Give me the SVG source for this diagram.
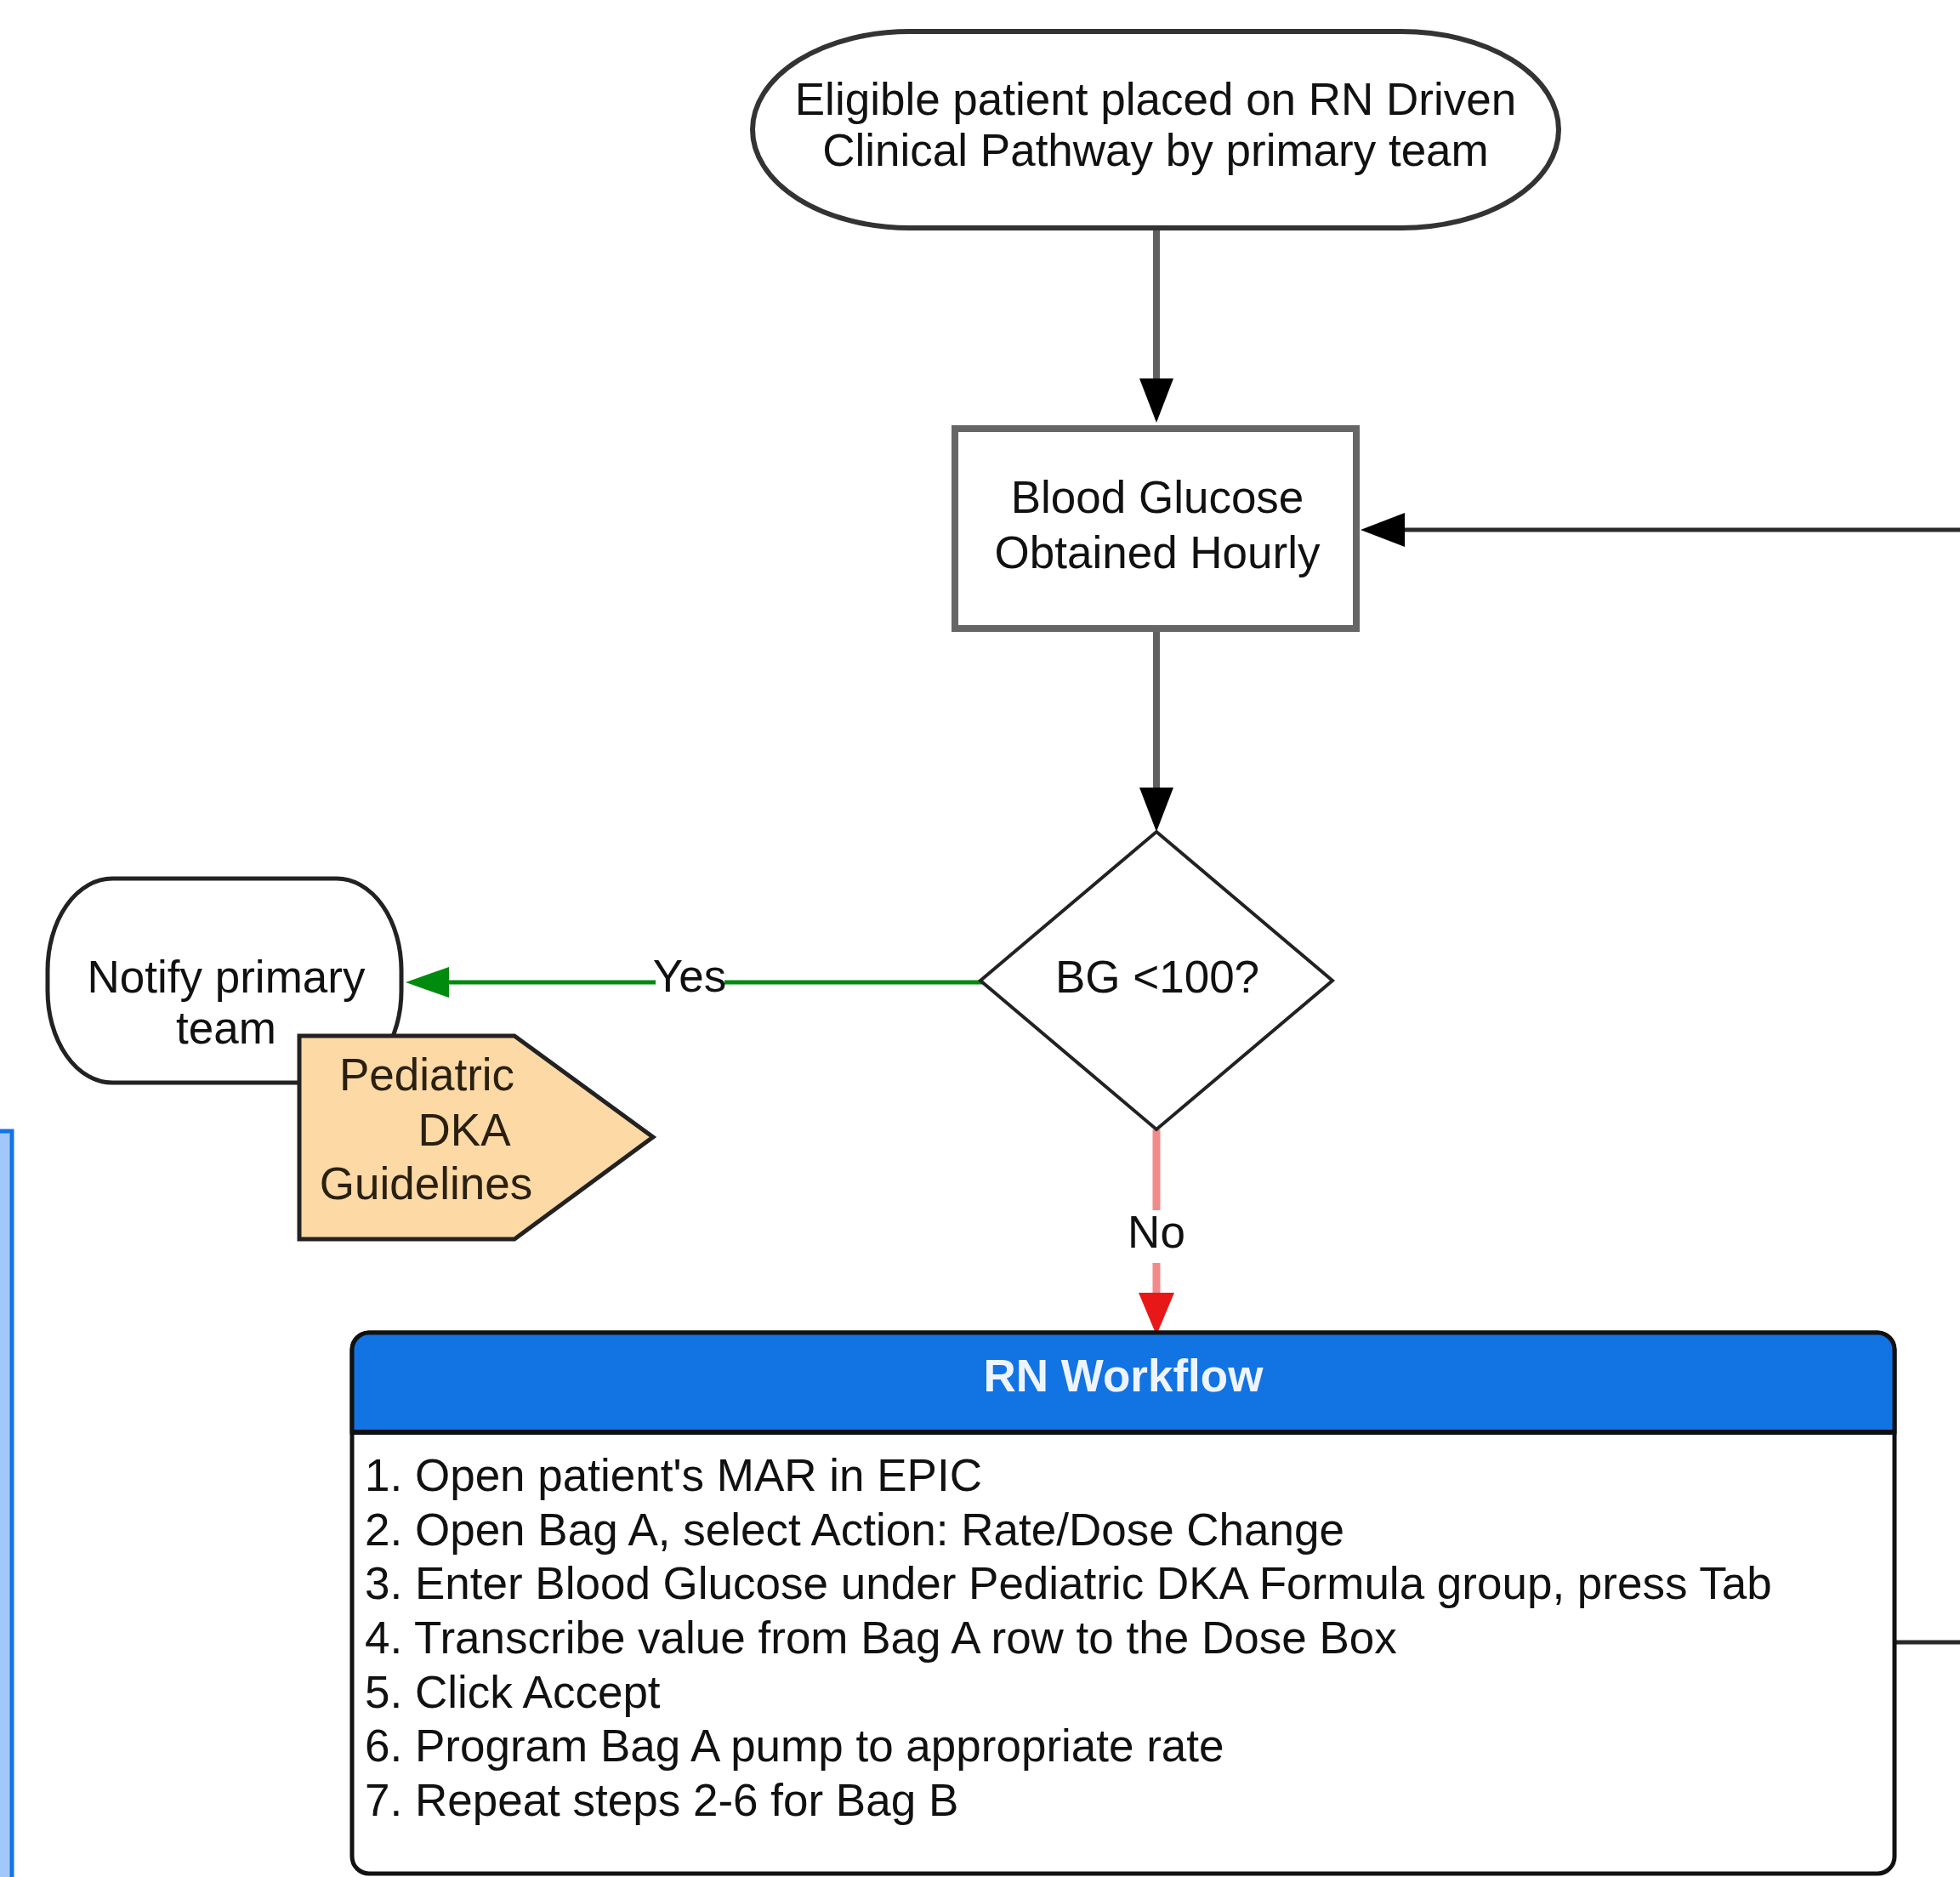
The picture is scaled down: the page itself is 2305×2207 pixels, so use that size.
<svg xmlns="http://www.w3.org/2000/svg" width="2305" height="2207" viewBox="0 0 2305 2207">
<style>
  text { font-family: "Liberation Sans", Arial, sans-serif; font-size: 53px; fill: #111; }
  .c { text-anchor: middle; }
  .conn { fill: none; stroke-linecap: butt; }
  .lbl { font-size: 53px; fill: #111; }
</style>
<defs>
  <marker id="ahBlack" markerUnits="userSpaceOnUse" markerWidth="54" markerHeight="40" refX="0" refY="20" orient="auto">
    <path d="M0,0 L52,20 L0,40 Z" fill="#000"/>
  </marker>
  <marker id="ahGreen" markerUnits="userSpaceOnUse" markerWidth="54" markerHeight="36" refX="0" refY="18" orient="auto">
    <path d="M0,0 L51,18 L0,36 Z" fill="#008a0e"/>
  </marker>
  <marker id="ahRed" markerUnits="userSpaceOnUse" markerWidth="52" markerHeight="42" refX="0" refY="21" orient="auto">
    <path d="M0,0 L50,21 L0,42 Z" fill="#e81818"/>
  </marker>
</defs>
<rect x="0" y="0" width="2305" height="2207" fill="#ffffff"/>

<!-- side panel (partially visible) -->
<g id="side-panel">
  <rect x="-60" y="1330" width="74" height="950" fill="#a2c8f9" stroke="#1473e6" stroke-width="5"/>
</g>

<!-- connectors -->
<g id="connectors">
  <path class="conn" d="M1360,268 V445" stroke="#606060" stroke-width="8" marker-end="url(#ahBlack)"/>
  <path class="conn" d="M1360,743 V926" stroke="#606060" stroke-width="8" marker-end="url(#ahBlack)"/>
  <path class="conn" d="M1155,1155 H528" stroke="#008a0e" stroke-width="5" marker-end="url(#ahGreen)"/>
  <path class="conn" d="M1360,1328 V1520" stroke="#f28a8a" stroke-width="9" marker-end="url(#ahRed)"/>
  <path class="conn" d="M2228,1931 H2340 V623 H1652" stroke="#2a2a2a" stroke-width="5" marker-end="url(#ahBlack)"/>
  <g id="label-yes">
    <rect x="771" y="1120" width="81" height="60" fill="#fff"/>
    <text class="c lbl" x="811" y="1166">Yes</text>
  </g>
  <g id="label-no">
    <rect x="1325" y="1423" width="70" height="62" fill="#fff"/>
    <text class="c lbl" x="1360" y="1467">No</text>
  </g>
</g>

<!-- start terminator -->
<g id="node-start">
  <path d="M1070,37 H1648 A185,115.5 0 0 1 1648,268 H1070 A185,115.5 0 0 1 1070,37 Z" fill="#fff" stroke="#333" stroke-width="6"/>
  <text class="c" x="1359" y="135">Eligible patient placed on RN Driven</text>
  <text class="c" x="1359" y="195">Clinical Pathway by primary team</text>
</g>

<!-- blood glucose box -->
<g id="node-bg-hourly">
  <rect x="1123" y="504" width="472" height="235" fill="#fff" stroke="#666" stroke-width="8"/>
  <text class="c" x="1361" y="603">Blood Glucose</text>
  <text class="c" x="1361" y="668">Obtained Hourly</text>
</g>

<!-- decision -->
<g id="node-decision">
  <polygon points="1360,978 1567,1153 1360,1328 1153,1153" fill="#fff" stroke="#222" stroke-width="4"/>
  <text class="c" x="1361" y="1167">BG &lt;100?</text>
</g>

<!-- notify primary team -->
<g id="node-notify">
  <rect x="56" y="1033" width="416" height="240" rx="76" ry="108" fill="#fff" stroke="#222" stroke-width="5"/>
  <text class="c" x="266" y="1167">Notify primary</text>
  <text class="c" x="266" y="1227">team</text>
</g>

<!-- off-page reference -->
<g id="node-guidelines">
  <polygon points="352,1218 605,1218 768,1337 605,1457 352,1457" fill="#fdd9a6" stroke="#222" stroke-width="5"/>
  <text class="c" x="502" y="1282" style="fill:#2a2010">Pediatric</text>
  <text class="c" x="546" y="1347" style="fill:#2a2010">DKA</text>
  <text class="c" x="501" y="1410" style="fill:#2a2010">Guidelines</text>
</g>

<!-- RN workflow container -->
<g id="node-rn-workflow">
  <rect x="414" y="1567" width="1814" height="636" rx="20" ry="20" fill="#fff" stroke="#111" stroke-width="5"/>
  <path d="M414,1684 V1587 A20,20 0 0 1 434,1567 H2208 A20,20 0 0 1 2228,1587 V1684 Z" fill="#1273e3" stroke="#111" stroke-width="5"/>
  <line x1="414" y1="1684" x2="2228" y2="1684" stroke="#0d0f14" stroke-width="6"/>
  <text class="c" x="1321" y="1636" style="font-weight:bold;fill:#eef4fd">RN Workflow</text>
  <text x="429" y="1753">1. Open patient's MAR in EPIC</text>
  <text x="429" y="1817">2. Open Bag A, select Action: Rate/Dose Change</text>
  <text x="429" y="1880">3. Enter Blood Glucose under Pediatric DKA Formula group, press Tab</text>
  <text x="429" y="1944">4. Transcribe value from Bag A row to the Dose Box</text>
  <text x="429" y="2008">5. Click Accept</text>
  <text x="429" y="2071">6. Program Bag A pump to appropriate rate</text>
  <text x="429" y="2135">7. Repeat steps 2-6 for Bag B</text>
</g>
</svg>
